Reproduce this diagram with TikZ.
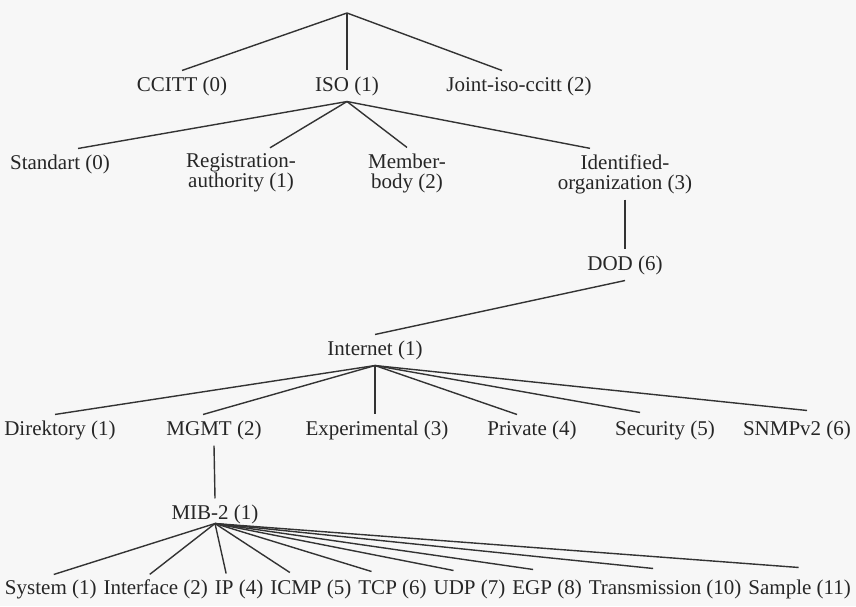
\documentclass[tikz,border=0pt]{standalone}
\usepackage{fontspec}
\setmainfont{Liberation Serif}
\usetikzlibrary{positioning}

\tikzset{
  lbl/.style={inner sep=0pt, outer sep=6pt, align=center, text=black!85,
    font=\fontsize{21}{20}\selectfont},
  leaf/.style={lbl, outer sep=0pt},
  edge/.style={line width=1.4pt, draw=black!80},
}

\begin{document}
\begin{tikzpicture}[x=1pt,y=-1pt]
\fill[black!3] (0,0) rectangle (856,606);
\useasboundingbox (0,0) rectangle (856,606);

% top of the tree
\coordinate (top) at (347,13);
\node[lbl] (ccitt) at (182,86) {CCITT (0)};
\node[lbl] (iso) at (347,86) {ISO (1)};
\node[lbl] (joint) at (519,86) {Joint-iso-ccitt (2)};

\draw[edge] (top) -- (ccitt.north);
\draw[edge] (top) -- (iso.north);
\draw[edge] (top) -- ([xshift=-17pt]joint.north);

% below ISO
\node[lbl] (std) at (60,164) {Standart (0)};
\node[lbl] (reg) at (241,173) {Registration-\\authority (1)};
\node[lbl] (mem) at (407,173) {Member-\\body (2)};
\node[lbl] (idorg) at (625,174) {Identified-\\organization (3)};

\draw[edge] (iso.south) -- ([xshift=18pt]std.north);
\draw[edge] (iso.south) -- ([xshift=29pt]reg.north);
\draw[edge] (iso.south) -- (mem.north);
\draw[edge] (iso.south) -- ([xshift=-35pt]idorg.north);

\node[lbl] (dod) at (625,265) {DOD (6)};
\node[lbl] (inet) at (375,350) {Internet (1)};

\draw[edge] (idorg.south) -- (dod.north);
\draw[edge] (dod.south) -- (inet.north);

% below Internet
\node[lbl] (dir) at (60,430) {Direktory (1)};
\node[lbl] (mgmt) at (214,430) {MGMT (2)};
\node[lbl] (exper) at (377,430) {Experimental (3)};
\node[lbl] (priv) at (532,430) {Private (4)};
\node[lbl] (secur) at (665,430) {Security (5)};
\node[lbl] (snmp) at (797,430) {SNMPv2 (6)};

\draw[edge] (inet.south) -- ([xshift=-5pt]dir.north);
\draw[edge] (inet.south) -- ([xshift=-11pt]mgmt.north);
\draw[edge] (inet.south) -- ([xshift=-2pt]exper.north);
\draw[edge] (inet.south) -- ([xshift=-15pt]priv.north);
\draw[edge] (inet.south) -- ([xshift=-25pt,yshift=2pt]secur.north);
\draw[edge] (inet.south) -- ([xshift=10pt,yshift=4pt]snmp.north);

\node[lbl] (mib) at (215,514) {MIB-2 (1)};
\draw[edge] (mgmt.south) -- (mib.north);
\coordinate (mibb) at ([yshift=6pt]mib.south);

% groups under MIB-2
\node[leaf, anchor=west] (sys) at (5,589) {System (1)};
\node[leaf, right=7pt of sys] (iface) {Interface (2)};
\node[leaf, right=7pt of iface] (ip) {IP (4)};
\node[leaf, right=7pt of ip] (icmp) {ICMP (5)};
\node[leaf, right=7pt of icmp] (tcp) {TCP (6)};
\node[leaf, right=7pt of tcp] (udp) {UDP (7)};
\node[leaf, right=7pt of udp] (egp) {EGP (8)};
\node[leaf, right=7pt of egp] (trans) {Transmission (10)};
\node[leaf, right=7pt of trans] (sample) {Sample (11)};

\draw[edge] (mibb) -- ([xshift=3pt,yshift=5pt]sys.north);
\draw[edge] (mibb) -- ([xshift=-6pt,yshift=5pt]iface.north);
\draw[edge] (mibb) -- ([xshift=-13pt,yshift=6pt]ip.north);
\draw[edge] (mibb) -- ([xshift=-21pt,yshift=7pt]icmp.north);
\draw[edge] (mibb) -- ([xshift=-21pt,yshift=8pt]tcp.north);
\draw[edge] (mibb) -- ([xshift=-16pt,yshift=9pt]udp.north);
\draw[edge] (mibb) -- ([xshift=-14pt,yshift=10pt]egp.north);
\draw[edge] (mibb) -- ([xshift=-12pt,yshift=11pt]trans.north);
\draw[edge] (mibb) -- ([xshift=-1pt,yshift=12pt]sample.north);
\end{tikzpicture}
\end{document}
